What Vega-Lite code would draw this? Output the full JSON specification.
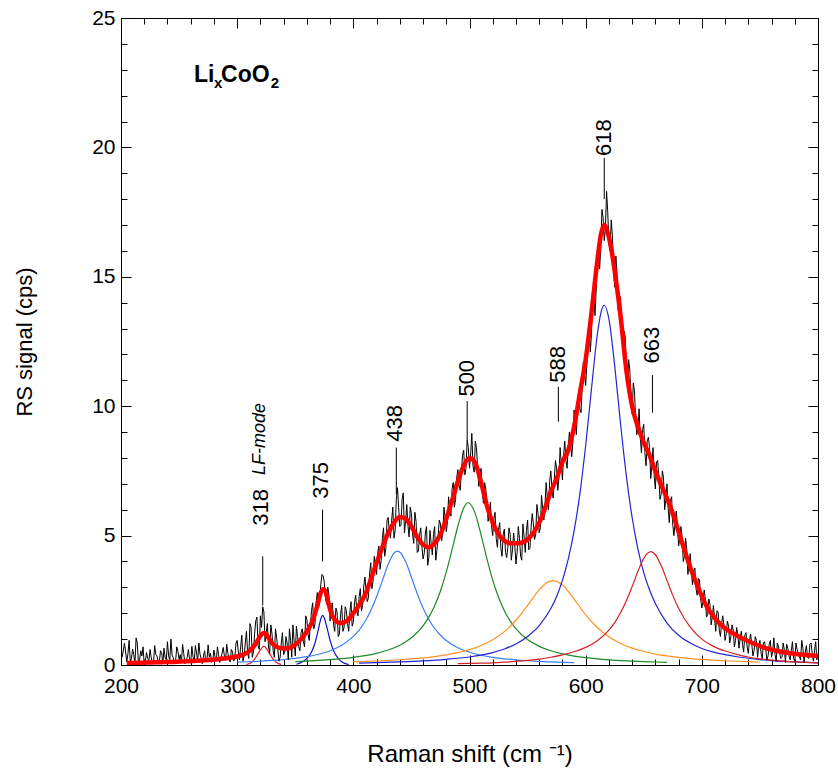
{
"$schema": "https://vega.github.io/schema/vega-lite/v6.json",
"width": 697, "height": 647,
"autosize": {"type": "none"},
"padding": {"left": 121, "top": 18, "right": 20, "bottom": 108},
"background": "white",
"config": {"view": {"stroke": null}, "font": "Liberation Sans"},
"datasets": {
"raw": [
{"x":206,"y":0.45},{"x":208,"y":0.10},{"x":210,"y":0.62},{"x":212,"y":0.05},{"x":214,"y":0.85},{"x":216,"y":0.20},{"x":218,"y":0.35},{"x":220,"y":0.02},{"x":222,"y":0.48},{"x":224,"y":0.15},{"x":226,"y":0.30},{"x":228,"y":0.08},{"x":230,"y":0.40},{"x":232,"y":0.12},{"x":234,"y":0.55},{"x":236,"y":0.05},{"x":238,"y":0.28},{"x":240,"y":0.90},{"x":242,"y":0.18},{"x":244,"y":0.38},{"x":246,"y":0.06},{"x":248,"y":0.70},{"x":250,"y":0.22},{"x":252,"y":0.10},{"x":254,"y":0.45},{"x":256,"y":0.15},{"x":258,"y":0.60},{"x":260,"y":0.08},{"x":262,"y":0.32},{"x":264,"y":0.75},{"x":266,"y":0.12},{"x":268,"y":0.42},{"x":270,"y":0.05},{"x":272,"y":0.55},{"x":274,"y":0.20},{"x":276,"y":0.30},{"x":278,"y":0.10},{"x":280,"y":0.58},{"x":282,"y":0.15},{"x":284,"y":0.40},{"x":286,"y":0.25},{"x":288,"y":0.68},{"x":290,"y":0.18},{"x":292,"y":0.45},{"x":294,"y":0.12},{"x":296,"y":0.50},{"x":298,"y":0.28},
{"x":300,"y":0.95},{"x":302,"y":0.20},{"x":304,"y":1.15},{"x":306,"y":0.35},{"x":308,"y":1.30},{"x":310,"y":0.25},{"x":312,"y":1.45},{"x":314,"y":0.50},{"x":316,"y":1.70},{"x":318,"y":0.75},{"x":320,"y":1.90},{"x":322,"y":2.25},{"x":324,"y":0.90},{"x":326,"y":1.60},{"x":328,"y":0.45},{"x":330,"y":1.20},{"x":332,"y":0.30},{"x":334,"y":1.05},{"x":336,"y":0.15},{"x":338,"y":0.85},{"x":340,"y":0.40},{"x":342,"y":1.10},{"x":344,"y":0.20},{"x":346,"y":0.95},{"x":348,"y":1.55},{"x":350,"y":0.35},{"x":352,"y":1.10},{"x":354,"y":0.55},{"x":356,"y":1.40},{"x":358,"y":0.70},{"x":360,"y":1.75},{"x":362,"y":0.95},{"x":364,"y":2.10},{"x":366,"y":1.40},{"x":368,"y":2.45},{"x":370,"y":2.20},{"x":372,"y":3.10},{"x":374,"y":3.45},{"x":376,"y":2.60},{"x":378,"y":3.00},{"x":380,"y":1.70},{"x":382,"y":2.40},{"x":384,"y":1.30},{"x":386,"y":2.05},{"x":388,"y":1.20},{"x":390,"y":2.30},{"x":392,"y":1.45},{"x":394,"y":2.10},{"x":396,"y":1.30},{"x":398,"y":2.45},
{"x":400,"y":1.65},{"x":402,"y":2.70},{"x":404,"y":1.90},{"x":406,"y":2.95},{"x":408,"y":2.30},{"x":410,"y":3.40},{"x":412,"y":2.45},{"x":414,"y":3.55},{"x":416,"y":2.95},{"x":418,"y":4.20},{"x":420,"y":3.50},{"x":422,"y":4.60},{"x":424,"y":4.05},{"x":426,"y":5.30},{"x":428,"y":4.50},{"x":430,"y":5.70},{"x":432,"y":4.90},{"x":434,"y":6.10},{"x":436,"y":5.20},{"x":438,"y":6.85},{"x":440,"y":5.35},{"x":442,"y":6.40},{"x":444,"y":5.10},{"x":446,"y":6.20},{"x":448,"y":4.95},{"x":450,"y":5.85},{"x":452,"y":4.70},{"x":454,"y":5.55},{"x":456,"y":4.40},{"x":458,"y":5.30},{"x":460,"y":4.10},{"x":462,"y":5.10},{"x":464,"y":3.85},{"x":466,"y":5.20},{"x":468,"y":4.25},{"x":470,"y":5.35},{"x":472,"y":4.45},{"x":474,"y":5.60},{"x":476,"y":4.80},{"x":478,"y":6.10},{"x":480,"y":5.15},{"x":482,"y":6.50},{"x":484,"y":5.75},{"x":486,"y":7.05},{"x":488,"y":6.40},{"x":490,"y":7.55},{"x":492,"y":6.75},{"x":494,"y":8.10},{"x":496,"y":7.35},{"x":498,"y":8.70},
{"x":500,"y":7.60},{"x":502,"y":8.95},{"x":504,"y":7.45},{"x":506,"y":8.40},{"x":508,"y":6.90},{"x":510,"y":7.60},{"x":512,"y":6.25},{"x":514,"y":6.80},{"x":516,"y":5.55},{"x":518,"y":6.30},{"x":520,"y":5.00},{"x":522,"y":5.90},{"x":524,"y":4.55},{"x":526,"y":5.50},{"x":528,"y":4.20},{"x":530,"y":5.25},{"x":532,"y":4.15},{"x":534,"y":5.30},{"x":536,"y":4.05},{"x":538,"y":5.10},{"x":540,"y":3.90},{"x":542,"y":5.35},{"x":544,"y":4.20},{"x":546,"y":5.45},{"x":548,"y":4.35},{"x":550,"y":5.60},{"x":552,"y":4.50},{"x":554,"y":5.85},{"x":556,"y":4.85},{"x":558,"y":6.20},{"x":560,"y":5.10},{"x":562,"y":6.55},{"x":564,"y":5.60},{"x":566,"y":7.05},{"x":568,"y":6.00},{"x":570,"y":7.50},{"x":572,"y":6.45},{"x":574,"y":7.90},{"x":576,"y":6.75},{"x":578,"y":8.40},{"x":580,"y":7.15},{"x":582,"y":8.65},{"x":584,"y":7.60},{"x":586,"y":9.00},{"x":588,"y":8.05},{"x":590,"y":9.85},{"x":592,"y":8.90},{"x":594,"y":10.60},{"x":596,"y":9.75},{"x":598,"y":11.70},
{"x":600,"y":10.80},{"x":602,"y":12.50},{"x":604,"y":12.10},{"x":606,"y":14.10},{"x":608,"y":13.50},{"x":610,"y":15.80},{"x":612,"y":15.30},{"x":614,"y":17.60},{"x":616,"y":16.40},{"x":618,"y":18.30},{"x":620,"y":16.30},{"x":622,"y":17.20},{"x":624,"y":15.20},{"x":626,"y":15.80},{"x":628,"y":13.70},{"x":630,"y":14.20},{"x":632,"y":12.20},{"x":634,"y":12.70},{"x":636,"y":10.80},{"x":638,"y":11.40},{"x":640,"y":9.70},{"x":642,"y":10.60},{"x":644,"y":8.90},{"x":646,"y":9.90},{"x":648,"y":8.20},{"x":650,"y":9.30},{"x":652,"y":7.70},{"x":654,"y":8.80},{"x":656,"y":7.20},{"x":658,"y":8.40},{"x":660,"y":6.80},{"x":662,"y":7.90},{"x":664,"y":6.40},{"x":666,"y":7.50},{"x":668,"y":6.00},{"x":670,"y":7.00},{"x":672,"y":5.50},{"x":674,"y":6.50},{"x":676,"y":5.00},{"x":678,"y":5.95},{"x":680,"y":4.60},{"x":682,"y":5.35},{"x":684,"y":4.00},{"x":686,"y":4.90},{"x":688,"y":3.50},{"x":690,"y":4.30},{"x":692,"y":3.10},{"x":694,"y":3.75},{"x":696,"y":2.70},{"x":698,"y":3.30},
{"x":700,"y":2.20},{"x":702,"y":2.90},{"x":704,"y":1.85},{"x":706,"y":2.55},{"x":708,"y":1.55},{"x":710,"y":2.30},{"x":712,"y":1.30},{"x":714,"y":2.05},{"x":716,"y":1.10},{"x":718,"y":1.90},{"x":720,"y":0.95},{"x":722,"y":1.70},{"x":724,"y":0.85},{"x":726,"y":1.55},{"x":728,"y":0.70},{"x":730,"y":1.45},{"x":732,"y":0.65},{"x":734,"y":1.30},{"x":736,"y":0.50},{"x":738,"y":1.25},{"x":740,"y":0.45},{"x":742,"y":1.20},{"x":744,"y":0.35},{"x":746,"y":1.10},{"x":748,"y":0.30},{"x":750,"y":0.95},{"x":752,"y":0.25},{"x":754,"y":0.90},{"x":756,"y":0.20},{"x":758,"y":0.80},{"x":760,"y":0.30},{"x":762,"y":1.05},{"x":764,"y":0.15},{"x":766,"y":0.70},{"x":768,"y":0.25},{"x":770,"y":0.85},{"x":772,"y":0.10},{"x":774,"y":0.65},{"x":776,"y":0.20},{"x":778,"y":0.90},{"x":780,"y":0.15},{"x":782,"y":0.60},{"x":784,"y":0.30},{"x":786,"y":0.95},{"x":788,"y":0.10},{"x":790,"y":0.75},{"x":792,"y":0.25},{"x":794,"y":0.85},{"x":796,"y":0.15},{"x":798,"y":0.90},{"x":800,"y":0.40},
{"x":201,"y":0.30},{"x":203,"y":0.85},{"x":205,"y":0.12},{"x":207,"y":0.95},{"x":209,"y":0.25},{"x":211,"y":0.40},{"x":213,"y":1.05},{"x":215,"y":0.10},{"x":217,"y":0.55},{"x":219,"y":0.70},{"x":221,"y":0.15},{"x":223,"y":0.25},{"x":225,"y":0.60},{"x":227,"y":0.05},{"x":229,"y":0.75},{"x":231,"y":0.35},{"x":233,"y":0.10},{"x":235,"y":0.48},{"x":237,"y":0.65},{"x":239,"y":0.20},{"x":241,"y":0.35},{"x":243,"y":1.00},{"x":245,"y":0.28},{"x":247,"y":0.15},{"x":249,"y":0.52},{"x":251,"y":0.40},{"x":253,"y":0.80},{"x":255,"y":0.05},{"x":257,"y":0.30},{"x":259,"y":0.22},{"x":261,"y":0.72},{"x":263,"y":0.10},{"x":265,"y":0.50},{"x":267,"y":0.85},{"x":269,"y":0.25},{"x":271,"y":0.35},{"x":273,"y":0.12},{"x":275,"y":0.78},{"x":277,"y":0.45},{"x":279,"y":0.20},{"x":281,"y":0.30},{"x":283,"y":0.70},{"x":285,"y":0.10},{"x":287,"y":0.45},{"x":289,"y":0.35},{"x":291,"y":0.80},{"x":293,"y":0.22},{"x":295,"y":0.60},{"x":297,"y":0.15},{"x":299,"y":0.85},
{"x":301,"y":0.50},{"x":303,"y":0.70},{"x":305,"y":0.15},{"x":307,"y":0.85},{"x":309,"y":0.45},{"x":311,"y":1.60},{"x":313,"y":0.30},{"x":315,"y":1.20},{"x":317,"y":1.85},{"x":319,"y":0.60},{"x":321,"y":1.45},{"x":323,"y":2.05},{"x":325,"y":1.25},{"x":327,"y":0.70},{"x":329,"y":1.55},{"x":331,"y":0.55},{"x":333,"y":1.40},{"x":335,"y":0.60},{"x":337,"y":0.30},{"x":339,"y":1.25},{"x":341,"y":0.50},{"x":343,"y":0.85},{"x":345,"y":1.40},{"x":347,"y":0.30},{"x":349,"y":0.95},
{"x":351,"y":1.50},{"x":353,"y":0.70},{"x":355,"y":1.25},{"x":357,"y":0.90},{"x":359,"y":1.90},{"x":361,"y":1.20},{"x":363,"y":1.55},{"x":365,"y":2.40},{"x":367,"y":1.60},{"x":369,"y":2.80},{"x":371,"y":2.45},{"x":373,"y":3.50},{"x":375,"y":3.20},{"x":377,"y":2.35},{"x":379,"y":2.70},{"x":381,"y":2.35},{"x":383,"y":1.55},{"x":385,"y":2.20},{"x":387,"y":1.10},{"x":389,"y":1.95},{"x":391,"y":1.30},{"x":393,"y":2.25},{"x":395,"y":1.60},{"x":397,"y":2.05},{"x":399,"y":1.50},
{"x":401,"y":2.40},{"x":403,"y":2.10},{"x":405,"y":2.65},{"x":407,"y":2.10},{"x":409,"y":3.05},{"x":411,"y":2.85},{"x":413,"y":2.60},{"x":415,"y":3.95},{"x":417,"y":3.25},{"x":419,"y":3.85},{"x":421,"y":4.35},{"x":423,"y":3.70},{"x":425,"y":4.90},{"x":427,"y":4.20},{"x":429,"y":5.60},{"x":431,"y":5.15},{"x":433,"y":5.60},{"x":435,"y":4.90},{"x":437,"y":6.40},{"x":439,"y":6.10},{"x":441,"y":5.40},{"x":443,"y":6.65},{"x":445,"y":5.55},{"x":447,"y":5.40},{"x":449,"y":6.10},{"x":451,"y":5.05},{"x":453,"y":5.90},{"x":455,"y":4.35},{"x":457,"y":5.00},{"x":459,"y":4.60},{"x":461,"y":4.30},{"x":463,"y":5.35},{"x":465,"y":4.15},{"x":467,"y":4.70},{"x":469,"y":5.05},{"x":471,"y":4.05},{"x":473,"y":5.00},{"x":475,"y":5.45},{"x":477,"y":5.10},{"x":479,"y":5.70},{"x":481,"y":5.50},{"x":483,"y":6.05},{"x":485,"y":6.80},{"x":487,"y":6.10},{"x":489,"y":7.25},{"x":491,"y":6.95},{"x":493,"y":7.45},{"x":495,"y":8.30},{"x":497,"y":7.60},{"x":499,"y":8.40},
{"x":501,"y":8.15},{"x":503,"y":7.70},{"x":505,"y":8.65},{"x":507,"y":7.60},{"x":509,"y":7.40},{"x":511,"y":6.70},{"x":513,"y":7.05},{"x":515,"y":6.35},{"x":517,"y":5.80},{"x":519,"y":5.35},{"x":521,"y":5.65},{"x":523,"y":4.90},{"x":525,"y":5.25},{"x":527,"y":4.50},{"x":529,"y":5.05},{"x":531,"y":4.35},{"x":533,"y":4.55},{"x":535,"y":5.05},{"x":537,"y":4.45},{"x":539,"y":4.60},{"x":541,"y":4.35},{"x":543,"y":4.90},{"x":545,"y":4.05},{"x":547,"y":4.95},{"x":549,"y":5.20},{"x":551,"y":4.45},{"x":553,"y":5.30},{"x":555,"y":5.45},{"x":557,"y":5.05},{"x":559,"y":5.85},{"x":561,"y":5.30},{"x":563,"y":6.05},{"x":565,"y":6.20},{"x":567,"y":6.45},{"x":569,"y":7.10},{"x":571,"y":6.80},{"x":573,"y":7.20},{"x":575,"y":7.60},{"x":577,"y":7.25},{"x":579,"y":7.80},{"x":581,"y":8.10},{"x":583,"y":7.90},{"x":585,"y":8.45},{"x":587,"y":8.55},{"x":589,"y":8.60},{"x":591,"y":9.40},{"x":593,"y":10.10},{"x":595,"y":9.90},{"x":597,"y":10.70},{"x":599,"y":11.30},
{"x":601,"y":11.60},{"x":603,"y":13.10},{"x":605,"y":12.80},{"x":607,"y":14.50},{"x":609,"y":14.40},{"x":611,"y":16.20},{"x":613,"y":16.10},{"x":615,"y":17.30},{"x":617,"y":16.90},{"x":619,"y":17.50},{"x":621,"y":16.00},{"x":623,"y":16.60},{"x":625,"y":14.60},{"x":627,"y":15.10},{"x":629,"y":14.30},{"x":631,"y":13.10},{"x":633,"y":12.90},{"x":635,"y":11.60},{"x":637,"y":11.80},{"x":639,"y":10.30},{"x":641,"y":10.90},{"x":643,"y":9.50},{"x":645,"y":9.10},{"x":647,"y":8.80},{"x":649,"y":9.10},{"x":651,"y":8.20},{"x":653,"y":8.65},{"x":655,"y":8.40},{"x":657,"y":7.70},{"x":659,"y":7.30},{"x":661,"y":7.85},{"x":663,"y":7.20},{"x":665,"y":6.60},{"x":667,"y":7.25},{"x":669,"y":6.40},{"x":671,"y":6.05},{"x":673,"y":6.35},{"x":675,"y":5.40},{"x":677,"y":5.55},{"x":679,"y":5.40},{"x":681,"y":4.85},{"x":683,"y":4.95},{"x":685,"y":4.20},{"x":687,"y":4.50},{"x":689,"y":3.90},{"x":691,"y":3.55},{"x":693,"y":3.60},{"x":695,"y":2.95},{"x":697,"y":3.35},{"x":699,"y":2.55},
{"x":701,"y":2.45},{"x":703,"y":2.55},{"x":705,"y":1.95},{"x":707,"y":2.35},{"x":709,"y":1.85},{"x":711,"y":1.75},{"x":713,"y":2.10},{"x":715,"y":1.35},{"x":717,"y":1.60},{"x":719,"y":1.55},{"x":721,"y":1.20},{"x":723,"y":1.50},{"x":725,"y":1.10},{"x":727,"y":1.35},{"x":729,"y":0.95},{"x":731,"y":1.15},{"x":733,"y":1.05},{"x":735,"y":0.80},{"x":737,"y":1.15},{"x":739,"y":0.70},{"x":741,"y":0.95},{"x":743,"y":0.80},{"x":745,"y":0.55},{"x":747,"y":0.95},{"x":749,"y":0.75},{"x":751,"y":0.45},{"x":753,"y":0.85},{"x":755,"y":0.60},{"x":757,"y":0.35},{"x":759,"y":0.95},{"x":761,"y":0.55},{"x":763,"y":0.40},{"x":765,"y":0.85},{"x":767,"y":0.45},{"x":769,"y":0.30},{"x":771,"y":0.60},{"x":773,"y":0.80},{"x":775,"y":0.35},{"x":777,"y":0.55},{"x":779,"y":0.25},{"x":781,"y":0.85},{"x":783,"y":0.45},{"x":785,"y":0.20},{"x":787,"y":0.65},{"x":789,"y":0.50},{"x":791,"y":0.30},{"x":793,"y":0.80},{"x":795,"y":0.45},{"x":797,"y":0.55},{"x":799,"y":0.20}
],
"fit": [
{"x":205,"y":0.08},{"x":215,"y":0.09},{"x":225,"y":0.10},{"x":235,"y":0.11},{"x":245,"y":0.12},{"x":255,"y":0.14},{"x":265,"y":0.16},{"x":275,"y":0.19},{"x":285,"y":0.23},{"x":295,"y":0.29},{"x":300,"y":0.33},{"x":305,"y":0.40},{"x":310,"y":0.52},{"x":314,"y":0.70},{"x":318,"y":0.98},{"x":321,"y":1.18},{"x":323,"y":1.24},{"x":325,"y":1.18},{"x":328,"y":0.98},{"x":331,"y":0.80},{"x":335,"y":0.68},{"x":340,"y":0.64},{"x":345,"y":0.66},{"x":350,"y":0.78},{"x":355,"y":1.00},{"x":360,"y":1.30},{"x":365,"y":1.72},{"x":369,"y":2.30},{"x":372,"y":2.80},{"x":374,"y":2.93},{"x":376,"y":2.85},{"x":378,"y":2.50},{"x":381,"y":2.00},{"x":385,"y":1.70},{"x":389,"y":1.62},{"x":395,"y":1.72},{"x":400,"y":2.00},{"x":405,"y":2.32},{"x":410,"y":2.70},{"x":415,"y":3.30},{"x":420,"y":3.95},{"x":425,"y":4.55},{"x":430,"y":5.10},{"x":435,"y":5.50},{"x":440,"y":5.72},{"x":445,"y":5.65},{"x":450,"y":5.35},{"x":455,"y":4.95},{"x":460,"y":4.65},{"x":465,"y":4.55},{"x":470,"y":4.70},{"x":475,"y":5.05},{"x":480,"y":5.65},{"x":485,"y":6.35},{"x":490,"y":7.10},{"x":495,"y":7.70},{"x":500,"y":8.00},{"x":505,"y":7.80},{"x":510,"y":7.05},{"x":515,"y":6.15},{"x":520,"y":5.50},{"x":525,"y":5.05},{"x":530,"y":4.80},{"x":535,"y":4.70},{"x":540,"y":4.70},{"x":545,"y":4.73},{"x":550,"y":4.85},{"x":555,"y":5.10},{"x":560,"y":5.50},{"x":565,"y":6.05},{"x":570,"y":6.70},{"x":575,"y":7.20},{"x":580,"y":7.85},{"x":585,"y":8.30},{"x":590,"y":9.20},{"x":595,"y":10.50},{"x":600,"y":11.80},{"x":605,"y":13.60},{"x":610,"y":15.60},{"x":613,"y":16.60},{"x":616,"y":17.00},{"x":619,"y":16.70},{"x":622,"y":16.10},{"x":626,"y":14.90},{"x":630,"y":13.50},{"x":635,"y":11.40},{"x":640,"y":10.00},{"x":645,"y":9.20},{"x":650,"y":8.60},{"x":655,"y":8.10},{"x":660,"y":7.50},{"x":665,"y":6.95},{"x":670,"y":6.45},{"x":675,"y":5.85},{"x":680,"y":5.15},{"x":685,"y":4.45},{"x":690,"y":3.78},{"x":695,"y":3.20},{"x":700,"y":2.65},{"x":705,"y":2.20},{"x":710,"y":1.88},{"x":715,"y":1.62},{"x":720,"y":1.42},{"x":727,"y":1.22},{"x":735,"y":1.02},{"x":745,"y":0.82},{"x":755,"y":0.65},{"x":765,"y":0.54},{"x":775,"y":0.46},{"x":785,"y":0.41},{"x":800,"y":0.35}
],
"comp": [
{"peak":"p318","x":308,"y":0.02},{"peak":"p318","x":311,"y":0.07},{"peak":"p318","x":314,"y":0.17},{"peak":"p318","x":317,"y":0.36},{"peak":"p318","x":320,"y":0.58},{"peak":"p318","x":323,"y":0.73},{"peak":"p318","x":326,"y":0.58},{"peak":"p318","x":329,"y":0.36},{"peak":"p318","x":332,"y":0.17},{"peak":"p318","x":335,"y":0.07},{"peak":"p318","x":338,"y":0.02},
{"peak":"p375","x":351,"y":0.03},{"peak":"p375","x":356,"y":0.12},{"peak":"p375","x":360,"y":0.25},{"peak":"p375","x":364,"y":0.50},{"peak":"p375","x":367,"y":0.85},{"peak":"p375","x":370,"y":1.40},{"peak":"p375","x":372,"y":1.78},{"peak":"p375","x":373.5,"y":1.92},{"peak":"p375","x":375,"y":1.82},{"peak":"p375","x":377,"y":1.50},{"peak":"p375","x":380,"y":0.95},{"peak":"p375","x":383,"y":0.55},{"peak":"p375","x":387,"y":0.25},{"peak":"p375","x":391,"y":0.10},{"peak":"p375","x":396,"y":0.02},
{"peak":"p438","x":300,"y":0.109},{"peak":"p438","x":310,"y":0.126},{"peak":"p438","x":320,"y":0.148},{"peak":"p438","x":330,"y":0.175},{"peak":"p438","x":340,"y":0.211},{"peak":"p438","x":350,"y":0.259},{"peak":"p438","x":360,"y":0.324},{"peak":"p438","x":370,"y":0.417},{"peak":"p438","x":380,"y":0.553},{"peak":"p438","x":390,"y":0.764},{"peak":"p438","x":400,"y":1.105},{"peak":"p438","x":405,"y":1.35},{"peak":"p438","x":410,"y":1.68},{"peak":"p438","x":415,"y":2.10},{"peak":"p438","x":420,"y":2.64},{"peak":"p438","x":425,"y":3.26},{"peak":"p438","x":430,"y":3.89},{"peak":"p438","x":435,"y":4.32},{"peak":"p438","x":438,"y":4.40},{"peak":"p438","x":440,"y":4.36},{"peak":"p438","x":445,"y":4.00},{"peak":"p438","x":450,"y":3.39},{"peak":"p438","x":455,"y":2.76},{"peak":"p438","x":460,"y":2.20},{"peak":"p438","x":465,"y":1.76},{"peak":"p438","x":470,"y":1.41},{"peak":"p438","x":475,"y":1.15},{"peak":"p438","x":480,"y":0.947},{"peak":"p438","x":490,"y":0.668},{"peak":"p438","x":500,"y":0.492},{"peak":"p438","x":510,"y":0.376},{"peak":"p438","x":520,"y":0.295},{"peak":"p438","x":530,"y":0.238},{"peak":"p438","x":540,"y":0.196},{"peak":"p438","x":550,"y":0.164},{"peak":"p438","x":560,"y":0.139},{"peak":"p438","x":570,"y":0.119},{"peak":"p438","x":580,"y":0.103},{"peak":"p438","x":590,"y":0.09},
{"peak":"p500","x":350,"y":0.134},{"peak":"p500","x":360,"y":0.153},{"peak":"p500","x":370,"y":0.177},{"peak":"p500","x":380,"y":0.207},{"peak":"p500","x":390,"y":0.245},{"peak":"p500","x":400,"y":0.295},{"peak":"p500","x":410,"y":0.361},{"peak":"p500","x":420,"y":0.451},{"peak":"p500","x":430,"y":0.578},{"peak":"p500","x":440,"y":0.766},{"peak":"p500","x":450,"y":1.052},{"peak":"p500","x":460,"y":1.514},{"peak":"p500","x":465,"y":1.85},{"peak":"p500","x":470,"y":2.29},{"peak":"p500","x":475,"y":2.86},{"peak":"p500","x":480,"y":3.59},{"peak":"p500","x":485,"y":4.46},{"peak":"p500","x":490,"y":5.37},{"peak":"p500","x":495,"y":6.07},{"peak":"p500","x":499,"y":6.27},{"peak":"p500","x":505,"y":5.84},{"peak":"p500","x":510,"y":5.02},{"peak":"p500","x":515,"y":4.10},{"peak":"p500","x":520,"y":3.28},{"peak":"p500","x":525,"y":2.62},{"peak":"p500","x":530,"y":2.10},{"peak":"p500","x":535,"y":1.705},{"peak":"p500","x":540,"y":1.40},{"peak":"p500","x":550,"y":0.984},{"peak":"p500","x":560,"y":0.721},{"peak":"p500","x":570,"y":0.549},{"peak":"p500","x":580,"y":0.431},{"peak":"p500","x":590,"y":0.346},{"peak":"p500","x":600,"y":0.284},{"peak":"p500","x":610,"y":0.237},{"peak":"p500","x":620,"y":0.201},{"peak":"p500","x":630,"y":0.172},{"peak":"p500","x":640,"y":0.149},{"peak":"p500","x":650,"y":0.130},{"peak":"p500","x":660,"y":0.115},{"peak":"p500","x":670,"y":0.102},
{"peak":"p588","x":400,"y":0.123},{"peak":"p588","x":410,"y":0.138},{"peak":"p588","x":420,"y":0.155},{"peak":"p588","x":430,"y":0.177},{"peak":"p588","x":440,"y":0.203},{"peak":"p588","x":450,"y":0.235},{"peak":"p588","x":460,"y":0.275},{"peak":"p588","x":470,"y":0.326},{"peak":"p588","x":480,"y":0.392},{"peak":"p588","x":490,"y":0.478},{"peak":"p588","x":500,"y":0.595},{"peak":"p588","x":510,"y":0.754},{"peak":"p588","x":520,"y":0.976},{"peak":"p588","x":530,"y":1.29},{"peak":"p588","x":540,"y":1.73},{"peak":"p588","x":550,"y":2.30},{"peak":"p588","x":560,"y":2.90},{"peak":"p588","x":565,"y":3.13},{"peak":"p588","x":572,"y":3.26},{"peak":"p588","x":580,"y":3.09},{"peak":"p588","x":590,"y":2.55},{"peak":"p588","x":600,"y":1.94},{"peak":"p588","x":610,"y":1.45},{"peak":"p588","x":620,"y":1.09},{"peak":"p588","x":630,"y":0.834},{"peak":"p588","x":640,"y":0.652},{"peak":"p588","x":650,"y":0.521},{"peak":"p588","x":660,"y":0.423},{"peak":"p588","x":670,"y":0.350},{"peak":"p588","x":680,"y":0.294},{"peak":"p588","x":690,"y":0.250},{"peak":"p588","x":700,"y":0.215},{"peak":"p588","x":710,"y":0.187},{"peak":"p588","x":720,"y":0.163},{"peak":"p588","x":730,"y":0.144},{"peak":"p588","x":740,"y":0.128},{"peak":"p588","x":750,"y":0.115},
{"peak":"p618","x":405,"y":0.07},{"peak":"p618","x":420,"y":0.09},{"peak":"p618","x":440,"y":0.12},{"peak":"p618","x":460,"y":0.16},{"peak":"p618","x":480,"y":0.22},{"peak":"p618","x":500,"y":0.31},{"peak":"p618","x":510,"y":0.38},{"peak":"p618","x":520,"y":0.48},{"peak":"p618","x":530,"y":0.62},{"peak":"p618","x":540,"y":0.81},{"peak":"p618","x":550,"y":1.10},{"peak":"p618","x":560,"y":1.52},{"peak":"p618","x":570,"y":2.18},{"peak":"p618","x":575,"y":2.65},{"peak":"p618","x":580,"y":3.27},{"peak":"p618","x":585,"y":4.09},{"peak":"p618","x":590,"y":5.17},{"peak":"p618","x":595,"y":6.61},{"peak":"p618","x":600,"y":8.48},{"peak":"p618","x":605,"y":10.67},{"peak":"p618","x":610,"y":12.75},{"peak":"p618","x":613,"y":13.59},{"peak":"p618","x":616,"y":13.90},{"peak":"p618","x":620,"y":13.37},{"peak":"p618","x":625,"y":11.56},{"peak":"p618","x":630,"y":9.33},{"peak":"p618","x":635,"y":7.31},{"peak":"p618","x":640,"y":5.70},{"peak":"p618","x":645,"y":4.48},{"peak":"p618","x":650,"y":3.57},{"peak":"p618","x":655,"y":2.90},{"peak":"p618","x":660,"y":2.38},{"peak":"p618","x":670,"y":1.62},{"peak":"p618","x":680,"y":1.15},{"peak":"p618","x":690,"y":0.85},{"peak":"p618","x":700,"y":0.64},{"peak":"p618","x":710,"y":0.50},{"peak":"p618","x":720,"y":0.40},{"peak":"p618","x":730,"y":0.32},{"peak":"p618","x":740,"y":0.26},{"peak":"p618","x":750,"y":0.21},{"peak":"p618","x":760,"y":0.17},{"peak":"p618","x":770,"y":0.14},{"peak":"p618","x":780,"y":0.12},{"peak":"p618","x":790,"y":0.10},{"peak":"p618","x":800,"y":0.08},
{"peak":"p663","x":490,"y":0.05},{"peak":"p663","x":500,"y":0.06},{"peak":"p663","x":510,"y":0.07},{"peak":"p663","x":520,"y":0.085},{"peak":"p663","x":530,"y":0.11},{"peak":"p663","x":540,"y":0.14},{"peak":"p663","x":550,"y":0.18},{"peak":"p663","x":560,"y":0.23},{"peak":"p663","x":570,"y":0.30},{"peak":"p663","x":580,"y":0.39},{"peak":"p663","x":590,"y":0.51},{"peak":"p663","x":600,"y":0.68},{"peak":"p663","x":610,"y":0.94},{"peak":"p663","x":620,"y":1.35},{"peak":"p663","x":625,"y":1.64},{"peak":"p663","x":630,"y":2.02},{"peak":"p663","x":635,"y":2.48},{"peak":"p663","x":640,"y":3.03},{"peak":"p663","x":645,"y":3.62},{"peak":"p663","x":650,"y":4.12},{"peak":"p663","x":656,"y":4.38},{"peak":"p663","x":660,"y":4.26},{"peak":"p663","x":665,"y":3.84},{"peak":"p663","x":670,"y":3.27},{"peak":"p663","x":675,"y":2.69},{"peak":"p663","x":680,"y":2.19},{"peak":"p663","x":690,"y":1.46},{"peak":"p663","x":700,"y":1.00},{"peak":"p663","x":710,"y":0.72},{"peak":"p663","x":720,"y":0.54},{"peak":"p663","x":730,"y":0.41},{"peak":"p663","x":740,"y":0.31},{"peak":"p663","x":750,"y":0.24},{"peak":"p663","x":760,"y":0.19},{"peak":"p663","x":770,"y":0.15},{"peak":"p663","x":780,"y":0.12},{"peak":"p663","x":790,"y":0.10},{"peak":"p663","x":800,"y":0.08}
],
"rules": [
{"x":322,"y":2.3,"y2":4.2},{"x":373.5,"y":4.0,"y2":6.0},{"x":437,"y":6.6,"y2":8.4},{"x":498,"y":8.7,"y2":10.2},{"x":576.5,"y":9.4,"y2":10.75},{"x":616,"y":18.0,"y2":19.6},{"x":657.5,"y":9.75,"y2":11.2}
],
"labels": [
{"x":320.5,"y":6.09,"t":"318"},{"x":372,"y":7.13,"t":"375"},{"x":435.8,"y":9.34,"t":"438"},{"x":497.5,"y":11.08,"t":"500"},{"x":576.3,"y":11.62,"t":"588"},{"x":615.7,"y":20.38,"t":"618"},{"x":656.7,"y":12.36,"t":"663"}
],
"lf": [{"x":319.5,"y":8.73,"t":"LF-mode"}],
"formulaBig": [{"x":262.8,"y":22.54,"t":"Li"},{"x":286.1,"y":22.54,"t":"CoO"}],
"formulaSub": [{"x":280.0,"y":22.28,"t":"x"},{"x":329.0,"y":22.28,"t":"2"}]
},
"encoding": {
"x": {"field": "x", "type": "quantitative", "scale": {"domain": [200, 800], "nice": false, "zero": false}, "axis": null},
"y": {"field": "y", "type": "quantitative", "scale": {"domain": [0, 25], "nice": false, "zero": false}, "axis": null}
},
"layer": [
{"data": {"name": "comp"}, "mark": {"type": "line", "strokeWidth": 1.2, "interpolate": "monotone", "clip": true},
 "encoding": {"color": {"field": "peak", "type": "nominal", "legend": null,
   "scale": {"domain": ["p318","p375","p438","p500","p588","p618","p663"], "range": ["#ee1c24","#1010c8","#3a7ff2","#1c8a26","#ff9222","#2424d4","#d42222"]}}}},
{"data": {"name": "raw"}, "mark": {"type": "line", "color": "black", "strokeWidth": 1, "clip": true}},
{"data": {"name": "fit"}, "mark": {"type": "line", "color": "#ff0000", "strokeWidth": 4.5, "interpolate": "monotone", "clip": true}},
{"data": {"name": "rules"}, "mark": {"type": "rule", "color": "black", "strokeWidth": 1}, "encoding": {"y2": {"field": "y2"}}},
{"data": {"name": "labels"}, "mark": {"type": "text", "angle": 270, "fontSize": 22, "align": "center", "baseline": "middle", "color": "black"}, "encoding": {"text": {"field": "t"}}},
{"data": {"name": "lf"}, "mark": {"type": "text", "angle": 270, "fontSize": 18, "fontStyle": "italic", "align": "center", "baseline": "middle", "color": "black"}, "encoding": {"text": {"field": "t"}}},
{"data": {"name": "formulaBig"}, "mark": {"type": "text", "fontSize": 23, "fontWeight": "bold", "align": "left", "baseline": "alphabetic", "color": "black"}, "encoding": {"text": {"field": "t"}}},
{"data": {"name": "formulaSub"}, "mark": {"type": "text", "fontSize": 15, "fontWeight": "bold", "align": "left", "baseline": "alphabetic", "color": "black"}, "encoding": {"text": {"field": "t"}}},
{"data": {"name": "fit"}, "mark": {"type": "point", "opacity": 0},
 "encoding": {
  "x": {"field": "x", "type": "quantitative", "scale": {"domain": [200, 800], "nice": false, "zero": false},
   "axis": {"orient": "bottom", "values": [200,220,240,260,280,300,320,340,360,380,400,420,440,460,480,500,520,540,560,580,600,620,640,660,680,700,720,740,760,780,800],
     "labelExpr": "datum.value % 100 === 0 ? datum.label : ''", "format": "d",
     "tickSize": {"condition": {"test": "datum.value % 100 === 0", "value": -10}, "value": -6},
     "tickColor": "black", "domainColor": "black", "grid": false, "labelFontSize": 21, "labelColor": "black",
     "labelPadding": 20, "labelFlush": false, "labelOverlap": false, "labelFont": "Liberation Sans",
     "title": "Raman shift (cm ⁻¹)", "titleFontSize": 24, "titleFontWeight": "normal", "titleColor": "black", "titleFont": "Liberation Sans", "titlePadding": 42}},
  "y": {"field": "y", "type": "quantitative", "scale": {"domain": [0, 25], "nice": false, "zero": false},
   "axis": {"orient": "left", "values": [0,1,2,3,4,5,6,7,8,9,10,11,12,13,14,15,16,17,18,19,20,21,22,23,24,25],
     "labelExpr": "datum.value % 5 === 0 ? datum.label : ''", "format": "d",
     "tickSize": {"condition": {"test": "datum.value % 5 === 0", "value": -10}, "value": -6},
     "tickColor": "black", "domainColor": "black", "grid": false, "labelFontSize": 21, "labelColor": "black",
     "labelPadding": 16, "labelFlush": false, "labelOverlap": false, "labelFont": "Liberation Sans",
     "title": "RS signal (cps)", "titleFontSize": 22, "titleFontWeight": "normal", "titleColor": "black", "titleFont": "Liberation Sans", "titlePadding": 55}}
 }},
{"data": {"name": "fit"}, "mark": {"type": "point", "opacity": 0},
 "encoding": {
  "x": {"field": "x", "type": "quantitative", "scale": {"domain": [200, 800], "nice": false, "zero": false},
   "axis": {"orient": "top", "values": [200,220,240,260,280,300,320,340,360,380,400,420,440,460,480,500,520,540,560,580,600,620,640,660,680,700,720,740,760,780,800],
     "labels": false, "title": null,
     "tickSize": {"condition": {"test": "datum.value % 100 === 0", "value": -10}, "value": -6},
     "tickColor": "black", "domainColor": "black", "grid": false}},
  "y": {"field": "y", "type": "quantitative", "scale": {"domain": [0, 25], "nice": false, "zero": false},
   "axis": {"orient": "right", "values": [0,1,2,3,4,5,6,7,8,9,10,11,12,13,14,15,16,17,18,19,20,21,22,23,24,25],
     "labels": false, "title": null,
     "tickSize": {"condition": {"test": "datum.value % 5 === 0", "value": -10}, "value": -6},
     "tickColor": "black", "domainColor": "black", "grid": false}}
 }}
],
"resolve": {"axis": {"x": "independent", "y": "independent"}}
}
